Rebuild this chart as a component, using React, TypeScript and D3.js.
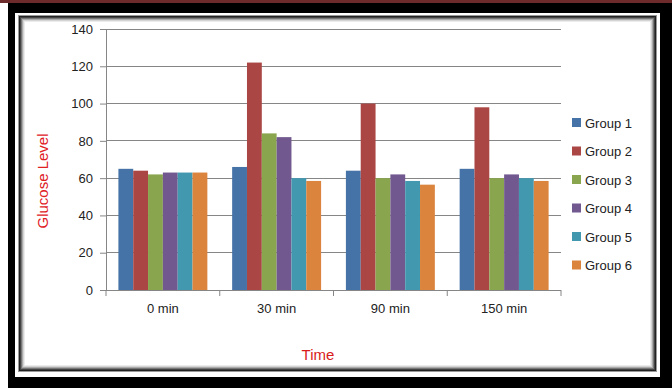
import React, { useEffect, useRef } from 'react';
import * as d3 from 'd3';

const times = ['0 min', '30 min', '90 min', '150 min'];
const groups = ['Group 1', 'Group 2', 'Group 3', 'Group 4', 'Group 5', 'Group 6'];
const group1 = [65, 66, 64, 65];
const group2 = [64, 122, 100, 98];
const group3 = [62, 84, 60, 60];
const group4 = [63, 82, 62, 62];
const group5 = [63, 60, 58.5, 60];
const group6 = [63, 58.5, 56.5, 58.5];
const yTicks = [0, 20, 40, 60, 80, 100, 120, 140];
const colors = ['#4673a7', '#aa4644', '#89a54e', '#71588f', '#4198af', '#db843d'];

const series = [group1, group2, group3, group4, group5, group6];

const App = () => {
  const ref = useRef<SVGSVGElement>(null);

  useEffect(() => {
    const svg = d3.select(ref.current);
    svg.selectAll('*').remove();
    const font = 'Liberation Sans Narrow, Liberation Sans, sans-serif';

    // frame
    svg.append('rect').attr('x', 0).attr('y', 0).attr('width', 672).attr('height', 3).attr('fill', '#6e2b2b');
    svg.append('rect').attr('x', 8).attr('y', 3).attr('width', 664).attr('height', 385).attr('fill', '#000');
    svg.append('rect').attr('x', 15).attr('y', 13).attr('width', 645).attr('height', 364).attr('fill', '#fff');
    const shades = ['#9a9a9a', '#222', '#444', '#777', '#aaa', '#d4d4d4', '#ececec'];
    shades.forEach((c, i) => {
      svg.append('rect')
        .attr('x', 18.5 + i).attr('y', 15.5 + i)
        .attr('width', 638 - 2 * i).attr('height', 356 - 2 * i)
        .attr('fill', 'none').attr('stroke', c).attr('stroke-width', 1);
    });

    const y = d3.scaleLinear().domain([0, 140]).range([290, 29]);
    const x0 = d3.scaleBand().domain(times).range([106, 561]).padding(0);
    const bw = x0.bandwidth();
    const x1 = d3.scaleBand().domain(groups).range([bw * 0.109, bw * 0.891]).padding(0);

    const g = svg.append('g');

    // gridlines
    g.selectAll('line.grid').data(yTicks.slice(1)).enter().append('line')
      .attr('x1', 106).attr('x2', 561)
      .attr('y1', d => y(d)).attr('y2', d => y(d))
      .attr('stroke', '#868686').attr('stroke-width', 1)
      .attr('shape-rendering', 'crispEdges');

    // bars
    times.forEach((t, ti) => {
      g.selectAll(null).data(series).enter().append('rect')
        .attr('x', (d, i) => (x0(t) as number) + (x1(groups[i]) as number))
        .attr('y', d => y(d[ti]))
        .attr('width', x1.bandwidth())
        .attr('height', d => 290 - y(d[ti]))
        .attr('fill', (d, i) => colors[i]);
    });

    // y axis
    const yAxis = g.append('g').attr('transform', 'translate(106,0)')
      .call(d3.axisLeft(y).tickValues(yTicks).tickSize(6).tickPadding(7));
    yAxis.select('.domain').attr('stroke', '#868686');
    yAxis.selectAll('line').attr('stroke', '#868686');
    yAxis.selectAll('text').attr('font-family', font).attr('font-size', 13).attr('fill', '#222');

    // x axis
    const xAxis = g.append('g').attr('transform', 'translate(0,290)')
      .call(d3.axisBottom(x0).tickSize(0).tickPadding(14));
    xAxis.select('.domain').remove();
    xAxis.selectAll('text').attr('font-family', font).attr('font-size', 13).attr('fill', '#222');
    g.append('line').attr('x1', 106).attr('x2', 561).attr('y1', 290.5).attr('y2', 290.5).attr('stroke', '#868686');
    g.selectAll('line.xt').data(times.concat(['end'])).enter().append('line')
      .attr('x1', (d, i) => 106 + i * bw).attr('x2', (d, i) => 106 + i * bw)
      .attr('y1', 290).attr('y2', 296).attr('stroke', '#868686');

    // titles
    svg.append('text').attr('transform', 'translate(48,181) rotate(-90)')
      .attr('text-anchor', 'middle').attr('font-family', font).attr('font-size', 15)
      .attr('fill', '#e0201f').text('Glucose Level');
    svg.append('text').attr('x', 318).attr('y', 360)
      .attr('text-anchor', 'middle').attr('font-family', font).attr('font-size', 15)
      .attr('fill', '#d81c1c').text('Time');

    // legend
    const legend = svg.append('g');
    groups.forEach((name, i) => {
      const ly = 123 + i * 28.5;
      legend.append('rect').attr('x', 572).attr('y', ly - 5).attr('width', 9).attr('height', 9).attr('fill', colors[i]);
      legend.append('text').attr('x', 585).attr('y', ly + 4.5)
        .attr('font-family', font).attr('font-size', 13).attr('fill', '#222').text(name);
    });
  });

  return (
    <svg ref={ref} width={672} height={388} style={{ position: 'absolute', left: 0, top: 0 }}></svg>
  );
};

export default App;
